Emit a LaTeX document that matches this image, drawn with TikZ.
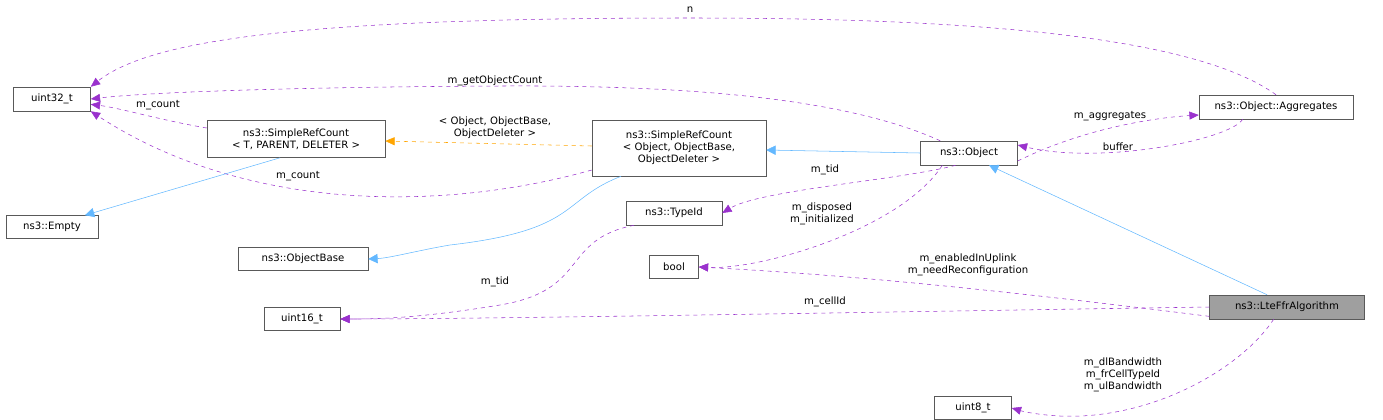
\documentclass[tikz,border=0pt]{standalone}
\usepackage{fontspec}
\setmainfont{DejaVu Sans}
\usetikzlibrary{arrows.meta}
\definecolor{pur}{HTML}{9A32CD}
\definecolor{blu}{HTML}{63B8FF}
\definecolor{org}{HTML}{FFA500}
\begin{document}
\begin{tikzpicture}[x=0.75pt,y=-0.75pt,font=\fontsize{7.6}{9}\selectfont,
  box/.style={draw=gray!70!black,fill=white,inner sep=1pt,align=center},
  wh/.style n args={2}{minimum width=#1*0.75pt,minimum height=#2*0.75pt},
  use/.style={draw=pur,dashed,-{Triangle[length=7pt,width=6pt]}},
  inh/.style={draw=blu,-{Triangle[open,fill=blu,length=7pt,width=7pt]}},
  tpl/.style={draw=org,dashed,-{Triangle[length=7pt,width=6pt]}},
  lab/.style={inner sep=0pt,align=center}]
\useasboundingbox (0,0) rectangle (1383,419);
\node[box,wh={77}{24}] (u32) at (52,99) {uint32\_t};
\node[box,wh={92}{23}] (empty) at (52,227) {ns3::Empty};
\node[box,wh={178}{37}] (srt) at (296,139) {ns3::SimpleRefCount\\< T, PARENT, DELETER >};
\node[box,wh={130}{23}] (ob) at (303,259) {ns3::ObjectBase};
\node[box,wh={76}{23}] (u16) at (302,319) {uint16\_t};
\node[box,wh={174}{56}] (sro) at (679,148) {ns3::SimpleRefCount\\< Object, ObjectBase,\\ObjectDeleter >};
\node[box,wh={96}{24}] (tid) at (674,213) {ns3::TypeId};
\node[box,wh={49}{23}] (bool) at (674,267) {bool};
\node[box,wh={97}{24}] (obj) at (969,153) {ns3::Object};
\node[box,wh={154}{24}] (agg) at (1276,107) {ns3::Object::Aggregates};
\node[box,fill=gray!75,wh={155}{24}] (lte) at (1287,307) {ns3::LteFfrAlgorithm};
\node[box,wh={77}{23}] (u8) at (973,408) {uint8\_t};

\draw[use] (agg.north) .. controls (1200,40) and (1000,18) .. (690,18) .. controls (300,18) and (150,40) .. (u32.north east);
\node[lab] (ln) at (690,10) {n};
\draw[use] ([xshift=15]obj.north west) .. controls (850,100) and (700,85) .. (500,86) .. controls (300,87) and (150,92) .. (u32.east);
\node[lab] (lg) at (495,81) {m\_getObjectCount};
\draw[use] (srt.west|-0,128) .. controls (160,120) and (120,108) .. ([yshift=-4]u32.east);
\node[lab] (lc1) at (158,105) {m\_count};
\draw[use] (sro.west|-0,170) .. controls (450,210) and (250,215) .. (u32.south east);
\node[lab] (lc2) at (298,176) {m\_count};
\draw[tpl] (sro.west|-0,146) -- (srt.east|-0,141);
\node[lab] (lt) at (495,128) {< Object, ObjectBase,\\ObjectDeleter >};
\draw[inh] ([xshift=55]srt.south west) -- ([xshift=-10]empty.north east);
\draw[inh] ([xshift=22]sro.south west) .. controls (560,200) and (580,230) .. (450,245) .. controls (420,250) and (390,258) .. (ob.east);
\draw[inh] (obj.west) -- (sro.east|-0,150);
\draw[use] ([yshift=-6]obj.east) .. controls (1080,130) and (1150,118) .. (agg.west|-0,115);
\node[lab] (la) at (1110,116) {m\_aggregates};
\draw[use] ([xshift=-25]agg.south) .. controls (1230,140) and (1100,165) .. ([yshift=6]obj.east);
\node[lab] (lb) at (1118,147) {buffer};
\draw[use] ([xshift=-10]obj.south) .. controls (900,180) and (760,190) .. (tid.east);
\node[lab] (lm) at (825,170) {m\_tid};
\draw[use] ([xshift=-20]obj.south) .. controls (900,230) and (760,270) .. (bool.east);
\node[lab] (ld) at (822,214) {m\_disposed\\m\_initialized};
\draw[inh] ([xshift=-15]lte.north) -- ([xshift=15]obj.south);
\draw[use] ([yshift=-7]lte.west) .. controls (1000,290) and (850,275) .. (bool.east);
\node[lab] (le) at (968,265) {m\_enabledInUplink\\m\_needReconfiguration};
\draw[use] (lte.west) .. controls (1000,310) and (500,319) .. (u16.east);
\node[lab] (lci) at (825,302) {m\_cellId};
\draw[use] ([xshift=-30]tid.south) .. controls (560,240) and (590,290) .. (500,305) .. controls (420,318) and (380,319) .. (u16.east);
\node[lab] (lt2) at (495,282) {m\_tid};
\draw[use] ([xshift=-10]lte.south) .. controls (1240,370) and (1150,420) .. (1060,416) .. controls (1040,415) and (1025,412) .. (u8.east);
\node[lab] (l8) at (1123,375) {m\_dlBandwidth\\m\_frCellTypeId\\m\_ulBandwidth};
\end{tikzpicture}
\end{document}
